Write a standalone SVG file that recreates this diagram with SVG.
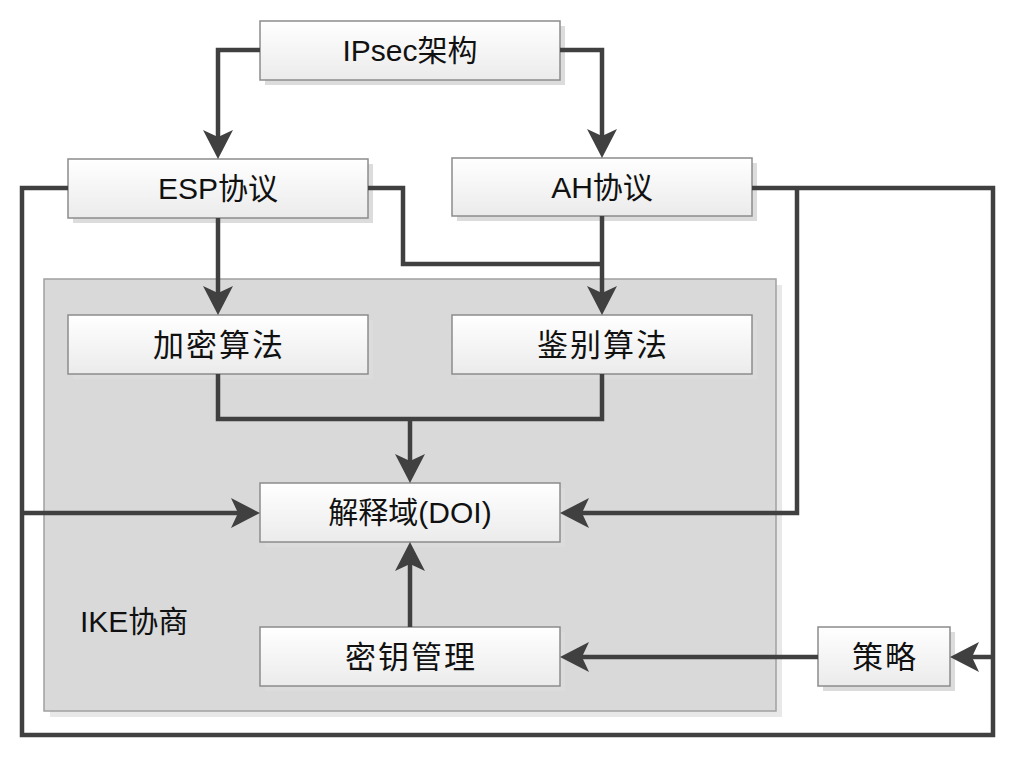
<svg xmlns="http://www.w3.org/2000/svg" width="1014" height="757" viewBox="0 0 1014 757">
<style>
.box{fill:url(#g);stroke:#8c8c8c;stroke-width:1.5}
.sh{fill:#dcdcdc}
.t{font-family:"Liberation Sans","Noto Sans CJK SC",sans-serif;font-size:30px;fill:#111;text-anchor:middle}
.cj{font-size:31px;letter-spacing:2px}
.c{fill:none;stroke:#404040;stroke-width:4.5;stroke-linejoin:miter}
.a{marker-end:url(#arr)}
</style>
<defs>
<linearGradient id="g" x1="0" y1="0" x2="0" y2="1">
<stop offset="0" stop-color="#ffffff"/>
<stop offset="1" stop-color="#ebebeb"/>
</linearGradient>
<marker id="arr" viewBox="-20 -16 32 32" refX="0" refY="0" markerWidth="32" markerHeight="32" markerUnits="userSpaceOnUse" orient="auto">
<path d="M10,0 L-19,-15 L-12,0 L-19,15 Z" fill="#404040"/>
</marker>
</defs>
<rect width="1014" height="757" fill="#fff"/>

<g id="ike">
<rect x="50" y="285" width="732" height="432" fill="#e8e8e8"/>
<rect x="44" y="279" width="732" height="432" fill="#d9d9d9" stroke="#a0a0a0" stroke-width="1.5"/>
<text x="80" y="632" class="t" style="text-anchor:start">IKE协商</text>
</g>

<g id="ipsec">
<rect class="sh" x="265" y="26" width="300" height="59"/>
<rect class="box" x="260" y="21" width="300" height="59"/>
<text class="t" x="410" y="61">IPsec架构</text>
</g>
<g id="esp">
<rect class="sh" x="73" y="164" width="300" height="59"/>
<rect class="box" x="68" y="159" width="300" height="59"/>
<text class="t" x="218" y="199">ESP协议</text>
</g>
<g id="ah">
<rect class="sh" x="457" y="163" width="300" height="58"/>
<rect class="box" x="452" y="158" width="300" height="58"/>
<text class="t" x="602" y="198">AH协议</text>
</g>
<g id="enc">
<rect class="sh" x="73" y="320" width="300" height="59"/>
<rect class="box" x="68" y="315" width="300" height="59"/>
<text class="t cj" x="219" y="356">加密算法</text>
</g>
<g id="auth">
<rect class="sh" x="457" y="320" width="300" height="59"/>
<rect class="box" x="452" y="315" width="300" height="59"/>
<text class="t cj" x="603" y="356">鉴别算法</text>
</g>
<g id="doi">
<rect class="sh" x="265" y="488" width="300" height="59"/>
<rect class="box" x="260" y="483" width="300" height="59"/>
<text class="t" x="410" y="523">解释域(DOI)</text>
</g>
<g id="key">
<rect class="sh" x="265" y="632" width="300" height="59"/>
<rect class="box" x="260" y="627" width="300" height="59"/>
<text class="t cj" x="411" y="668">密钥管理</text>
</g>
<g id="policy">
<rect class="sh" x="823" y="632" width="132" height="59"/>
<rect class="box" x="818" y="627" width="132" height="59"/>
<text class="t cj" x="885" y="668">策略</text>
</g>

<g id="connectors">
<path class="c a" d="M260,50 H218 V149"/>
<path class="c a" d="M560,50 H602 V148"/>
<path class="c a" d="M218,218 V305"/>
<path class="c a" d="M602,216 V305"/>
<path class="c" d="M368,188 H403 V264 H602"/>
<path class="c" d="M218,374 V419 H602 V374"/>
<path class="c a" d="M410,419 V473"/>
<path class="c" d="M68,188 H22 V735 H993 V188 H752"/>
<path class="c a" d="M22,513 H250"/>
<path class="c a" d="M993,657 H960"/>
<path class="c a" d="M797,188 V513 H570"/>
<path class="c a" d="M410,627 V552"/>
<path class="c a" d="M818,657 H570"/>
</g>
</svg>
